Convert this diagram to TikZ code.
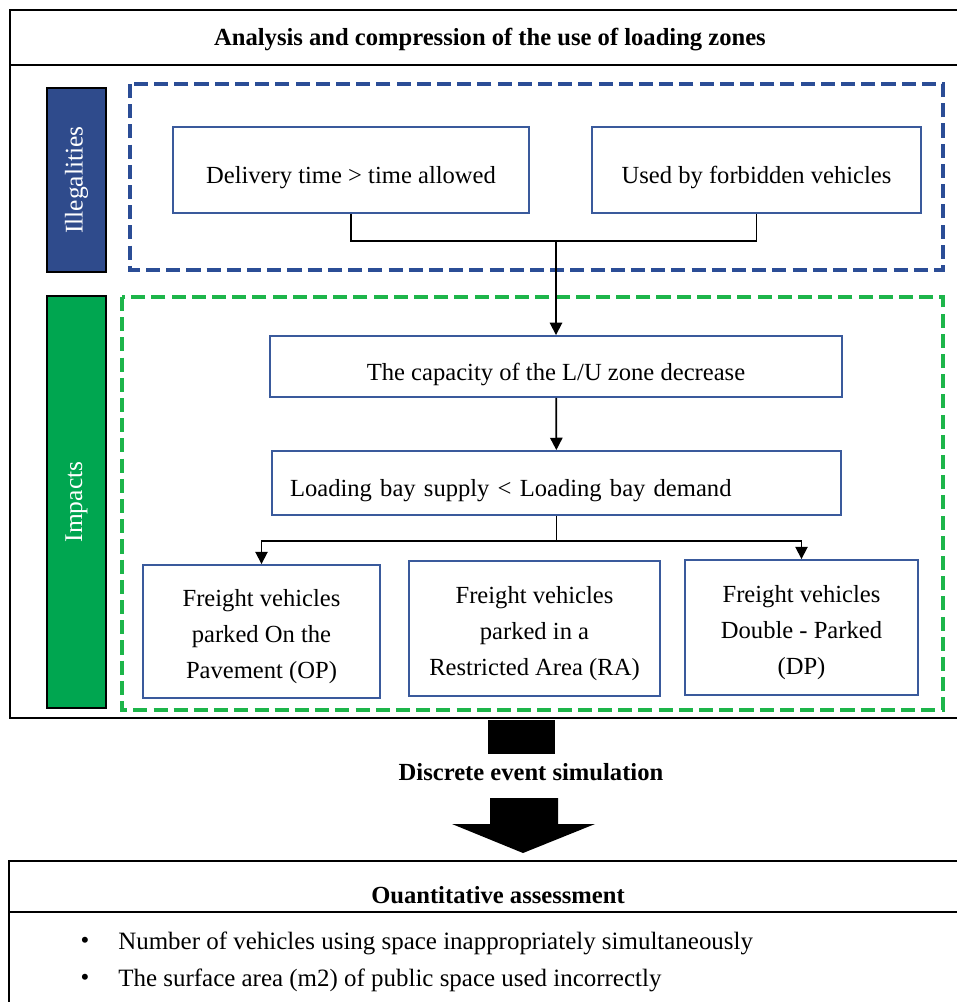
\documentclass[tikz,border=0pt]{standalone}
\usepackage{fontspec}
\setmainfont{Liberation Serif}
\usetikzlibrary{arrows.meta}
\definecolor{dashblue}{HTML}{2B4D96}
\definecolor{labelblue}{HTML}{2F4B8C}
\definecolor{dashgreen}{HTML}{1DB54A}
\definecolor{labelgreen}{HTML}{00A650}
\definecolor{boxblue}{HTML}{3A5A9C}
\tikzset{
  stepbox/.style={draw=boxblue,line width=1.1pt,inner sep=0pt,align=center,font=\fontsize{14}{20.5}\selectfont},
  oneline/.style={text height=18.5pt},
  threeline/.style={text height=56.3pt},
  sidelabel/.style={draw=black,line width=1.1pt,inner sep=0pt,rotate=90,text=white,minimum height=1.18cm,font=\fontsize{14.5}{16}\selectfont},
  zone/.style={line width=2.2pt,dash pattern=on 8pt off 3.5pt},
  frame/.style={line width=1.6pt},
  title/.style={font=\bfseries\fontsize{14}{16}\selectfont},
  bodytext/.style={font=\fontsize{14.2}{16}\selectfont},
  link/.style={line width=1pt},
  linkarrow/.style={line width=1pt,-{Triangle[length=7pt,width=7pt]}}
}
\begin{document}
\begin{tikzpicture}[x=0.02cm,y=-0.02cm]
  \useasboundingbox (0,0) rectangle (957,1002);
  \draw[frame] (10,10) rectangle (975,718);
  \draw[frame] (10,65) -- (975,65);
  \node[title] (head) at (490,40) {Analysis and compression of the use of loading zones};

  \draw[zone,dashblue] (130,84) rectangle (943,270);
  \draw[zone,dashgreen] (122,297) rectangle (943,710);
  \node[sidelabel,fill=labelblue,minimum width=3.68cm] (ill) at (76.5,180) {Illegalities};
  \node[sidelabel,fill=labelgreen,minimum width=8.24cm] (imp) at (76.5,502) {Impacts};

  \node[stepbox,oneline,minimum width=7.12cm,minimum height=1.72cm] (late) at (351,170) {Delivery time > time allowed};
  \node[stepbox,oneline,minimum width=6.58cm,minimum height=1.72cm] (forbid) at (756.5,170) {Used by forbidden vehicles};
  \node[stepbox,oneline,minimum width=11.44cm,minimum height=1.22cm] (capac) at (556,366.5) {The capacity of the L/U zone decrease};
  \node[stepbox,oneline,minimum width=11.38cm,minimum height=1.28cm,text width=10.66cm,align=left] (supply) at (556.5,483) {Loading bay supply < Loading bay demand};
  \node[stepbox,threeline,minimum width=4.74cm,minimum height=2.66cm] (op) at (261.5,631.5) {Freight vehicles\\parked On the\\Pavement (OP)};
  \node[stepbox,threeline,minimum width=5.02cm,minimum height=2.7cm] (ra) at (534.5,628.5) {Freight vehicles\\parked in a\\Restricted Area (RA)};
  \node[stepbox,threeline,minimum width=4.66cm,minimum height=2.7cm] (dp) at (801.5,627.5) {Freight vehicles\\Double - Parked\\(DP)};

  \draw[link] (late.south) -- ++(0,27) -| (forbid.south);
  \coordinate (join) at (556,240);
  \draw[linkarrow] (join) -- (capac.north);
  \draw[linkarrow] (capac) -- (supply);
  \draw[link] (supply.south) -- ++(0,25) coordinate (split);
  \draw[linkarrow] (split) -| (op.north);
  \draw[linkarrow] (split) -| (dp.north);

  \fill (488,720) rectangle (555,754);
  \node[title] (sim) at (531,772) {Discrete event simulation};
  \fill (490,798) -- (558,798) -- (558,824) -- (595,824) -- (523,853) -- (452,824) -- (490,824) -- cycle;

  \draw[frame] (9,861) rectangle (975,1012);
  \draw[frame] (9,912) -- (975,912);
  \node[title] (quant) at (498,895) {Ouantitative assessment};
  \node[bodytext] (dot1) at (85,943) {\textbullet};
  \node[bodytext] (dot2) at (85,980) {\textbullet};
  \node[bodytext,anchor=west,inner sep=0pt] (count) at (118,943) {Number of vehicles using space inappropriately simultaneously};
  \node[bodytext,anchor=west,inner sep=0pt] (area) at (118,980) {The surface area (m2) of public space used incorrectly};
\end{tikzpicture}
\end{document}
